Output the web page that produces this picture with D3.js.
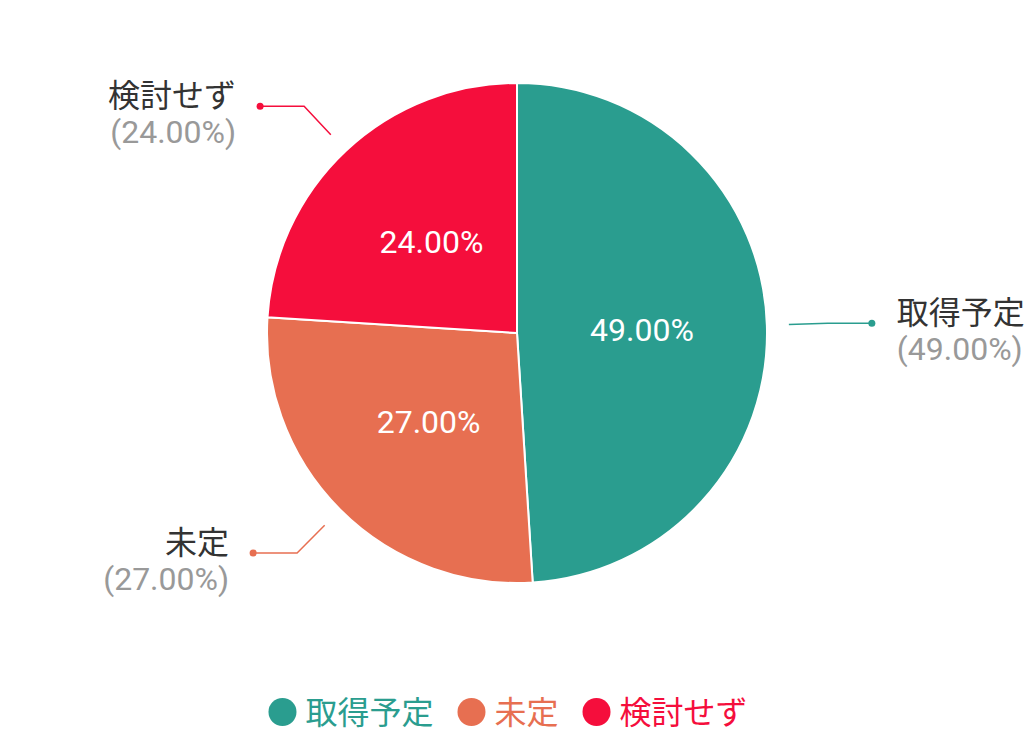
<!DOCTYPE html>
<html>
<head>
<meta charset="utf-8">
<script src="https://cdn.jsdelivr.net/npm/d3@7"></script>
<style>
  body { margin: 0; background: #fff; }
  svg { display: block; font-family: Roboto, "Noto Sans CJK JP", sans-serif; }
</style>
</head>
<body>
<svg id="chart" width="1034" height="736"></svg>
<script>
const categories = ["取得予定", "未定", "検討せず"];
const values = [49, 27, 24];
const colors = ["#2a9d8f", "#e76f51", "#f50e3c"];

const W = 1034, H = 736;
const cx = 517, cy = 333, R = 250;
const fs = 32;
const svg = d3.select("#chart");

const data = categories.map((c, i) => ({ name: c, value: values[i], color: colors[i] }));
const total = d3.sum(values);
const fmt = v => (v / total * 100).toFixed(2) + "%";

const pie = d3.pie().value(d => d.value).sort(null);
const arcs = pie(data);
const arc = d3.arc().innerRadius(0).outerRadius(R);
const labelArc = d3.arc().innerRadius(125).outerRadius(125);

const g = svg.append("g").attr("transform", `translate(${cx},${cy})`);

g.selectAll("path.slice")
  .data(arcs)
  .join("path")
  .attr("class", "slice")
  .attr("d", arc)
  .attr("fill", d => d.data.color)
  .attr("stroke", "#fff")
  .attr("stroke-width", 2);

g.selectAll("text.inner")
  .data(arcs)
  .join("text")
  .attr("class", "inner")
  .attr("transform", d => `translate(${labelArc.centroid(d)})`)
  .attr("text-anchor", "middle")
  .attr("dy", "0.36em")
  .attr("fill", "#fff")
  .attr("font-size", fs)
  .text(d => fmt(d.data.value));

// leader lines + outer labels
const r1 = 272, r2 = 311, hLen = 44;
arcs.forEach(d => {
  const a = (d.startAngle + d.endAngle) / 2;
  const sx = Math.sin(a), sy = -Math.cos(a);
  const p1 = [sx * r1, sy * r1];
  const p2 = [sx * r2, sy * r2];
  const right = sx > 0;
  const p3 = [p2[0] + (right ? hLen : -hLen), p2[1]];
  g.append("polyline")
    .attr("points", [p1, p2, p3].map(p => p.join(",")).join(" "))
    .attr("fill", "none")
    .attr("stroke", d.data.color)
    .attr("stroke-width", 1.5);
  g.append("circle")
    .attr("cx", p3[0]).attr("cy", p3[1]).attr("r", 3.5)
    .attr("fill", d.data.color);
  const tx = p3[0] + (right ? 25 : -24);
  const t = g.append("text")
    .attr("text-anchor", right ? "start" : "end")
    .attr("font-size", fs);
  t.append("tspan").attr("x", tx).attr("y", p3[1] + 1)
    .attr("fill", "#333").text(d.data.name);
  t.append("tspan").attr("x", tx).attr("y", p3[1] + 37)
    .attr("fill", "#999").text("(" + fmt(d.data.value) + ")");
});

// legend
const legend = svg.append("g");
let x = 0;
data.forEach(d => {
  const item = legend.append("g").attr("transform", `translate(${x},0)`);
  item.append("circle").attr("cx", 14).attr("cy", 0).attr("r", 14).attr("fill", d.color);
  const t = item.append("text")
    .attr("x", 37).attr("y", 0).attr("dy", "0.36em")
    .attr("font-size", fs).attr("fill", d.color).text(d.name);
  x += 37 + t.node().getComputedTextLength() + 24;
});
const lw = x - 24;
legend.attr("transform", `translate(${508 - lw / 2},712)`);
</script>
</body>
</html>
